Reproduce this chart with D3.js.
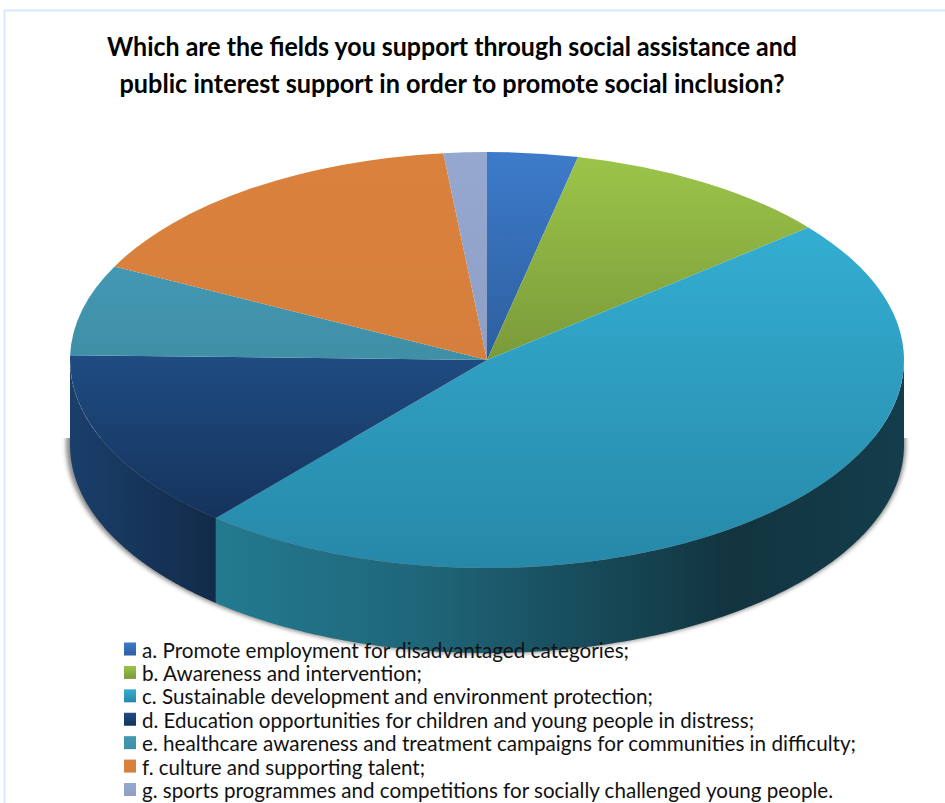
<!DOCTYPE html>
<html>
<head>
<meta charset="utf-8">
<script src="https://cdn.jsdelivr.net/npm/d3@7"></script>
<style>
  html, body { margin: 0; padding: 0; background: #fff; overflow: hidden; }
  text { font-family: Lato, "Open Sans", sans-serif; }
</style>
</head>
<body>
<script>
// Share of responses per field, in percent.
const categories = [
  "a. Promote employment for disadvantaged categories;",
  "b. Awareness and intervention;",
  "c. Sustainable development and environment protection;",
  "d. Education opportunities for children and young people in distress;",
  "e. healthcare awareness and treatment campaigns for communities in difficulty;",
  "f. culture and supporting talent;",
  "g. sports programmes and competitions for socially challenged young people."
];
const shares = [3.5, 10.5, 47.25, 14.1, 7.05, 15.9, 1.67];
const topLight = ["#3d7bca", "#9cc449", "#33aed2", "#1f4c82", "#4398b2", "#da813d", "#95a8d0"];
const topDark  = ["#2d5f9e", "#7a9a3a", "#2788a8", "#15335c", "#3f8fa6", "#d67f3c", "#8f9fc4"];
const titleLines = [
  "Which are the fields you support through social assistance and",
  "public interest support in order to promote social inclusion?"
];
const titleWidths = [690, 665];
const legendWidths = [487, 280, 511, 612, 714, 283, 691];

const width = 945, height = 803;
const cx = 487, cy = 360, rx = 417, ry = 208, depth = 85;

const svg = d3.select("body").append("svg")
  .attr("width", width).attr("height", height);
const defs = svg.append("defs");

// Page frame
svg.append("path")
  .attr("d", `M4.5 ${height}V10.5H${width}`)
  .attr("fill", "none").attr("stroke", "#d9e9f9").attr("stroke-width", 2);

// Title
svg.append("g").selectAll("text").data(titleLines).join("text")
  .attr("x", 452).attr("y", (d, i) => 56 + i * 37)
  .attr("text-anchor", "middle")
  .attr("font-size", 26).attr("font-weight", 700).attr("fill", "#000")
  .attr("textLength", (d, i) => titleWidths[i])
  .attr("lengthAdjust", "spacingAndGlyphs")
  .text(d => d);

// Slice angles, clockwise from twelve o'clock
const pie = d3.pie().sort(null).value(d => d);
const slices = pie(shares);

// Position on an ellipse for a given pie angle
const ex = d3.scaleLinear().domain([-1, 1]).range([cx - rx, cx + rx]);
const ey = d3.scaleLinear().domain([-1, 1]).range([cy - ry, cy + ry]);

// Soft shadow under the lower rim of the disc
defs.append("filter").attr("id", "soft")
  .attr("x", "-5%").attr("y", "-5%").attr("width", "110%").attr("height", "110%")
  .append("feGaussianBlur").attr("stdDeviation", 2);
defs.append("clipPath").attr("id", "belowRim")
  .append("rect").attr("x", 0).attr("y", 438).attr("width", width).attr("height", height);
svg.append("g").attr("clip-path", "url(#belowRim)")
  .append("ellipse")
  .attr("cx", cx - 1).attr("cy", cy + depth)
  .attr("rx", rx + 3).attr("ry", ry + 1)
  .attr("fill", "#8a8a8a").attr("filter", "url(#soft)");

// Rim of the disc: only the slices on the front half are visible
const rimSteps = 160;
function rimPath(a0, a1) {
  const from = Math.max(a0, Math.PI / 2), to = Math.min(a1, 3 * Math.PI / 2);
  if (to <= from) return null;
  const angles = d3.range(rimSteps + 1).map(i => from + (to - from) * i / rimSteps);
  const line = d3.line();
  const upper = angles.map(a => [ex(Math.sin(a)), ey(-Math.cos(a))]);
  const lower = angles.slice().reverse().map(a => [ex(Math.sin(a)), ey(-Math.cos(a)) + depth]);
  return line(upper.concat(lower)) + "Z";
}
function linearGrad(id, attrs, stops) {
  const g = defs.append("linearGradient").attr("id", id);
  Object.entries(attrs).forEach(([k, v]) => g.attr(k, v));
  stops.forEach(([o, c]) => g.append("stop").attr("offset", o).attr("stop-color", c));
}
linearGrad("rim2", { gradientUnits: "userSpaceOnUse", x1: 215, x2: 905, y1: 0, y2: 0 }, [
  [0, "#237a90"], [0.3, "#1f6679"], [0.55, "#174a59"], [0.75, "#12343f"], [1, "#143d4c"]
]);
linearGrad("rim3", { gradientUnits: "userSpaceOnUse", x1: 71, x2: 215, y1: 0, y2: 0 }, [
  [0, "#1a3f6b"], [1, "#122b49"]
]);
const rimSlices = slices.filter(d => rimPath(d.startAngle, d.endAngle) !== null);
svg.append("g").selectAll("path").data(rimSlices).join("path")
  .attr("d", d => rimPath(d.startAngle, d.endAngle))
  .attr("fill", d => `url(#rim${d.index})`);

// Top face of the disc, each slice shaded over its own vertical extent
const arc = d3.arc().innerRadius(0).outerRadius(rx);
slices.forEach((d, i) => {
  linearGrad(`face${i}`, { x1: 0, x2: 0, y1: 0, y2: 1 }, [[0, topLight[i]], [1, topDark[i]]]);
});
const face = svg.append("g")
  .attr("transform", `translate(${cx},${cy}) scale(1,${ry / rx})`);
face.selectAll("path").data(slices).join("path")
  .attr("d", arc)
  .attr("fill", (d, i) => `url(#face${i})`);

// Legend
const legendY = d3.scalePoint().domain(d3.range(categories.length)).range([650.5, 791]);
const legend = svg.append("g").selectAll("g").data(categories).join("g")
  .attr("transform", (d, i) => `translate(124,${legendY(i)})`);
legend.append("rect")
  .attr("x", 0).attr("y", -8).attr("width", 12).attr("height", 13)
  .attr("fill", (d, i) => `url(#face${i})`);
legend.append("text")
  .attr("x", 18).attr("y", 7)
  .attr("font-size", 21).attr("fill", "#111")
  .attr("textLength", (d, i) => legendWidths[i])
  .attr("lengthAdjust", "spacingAndGlyphs")
  .text(d => d);
</script>
</body>
</html>
